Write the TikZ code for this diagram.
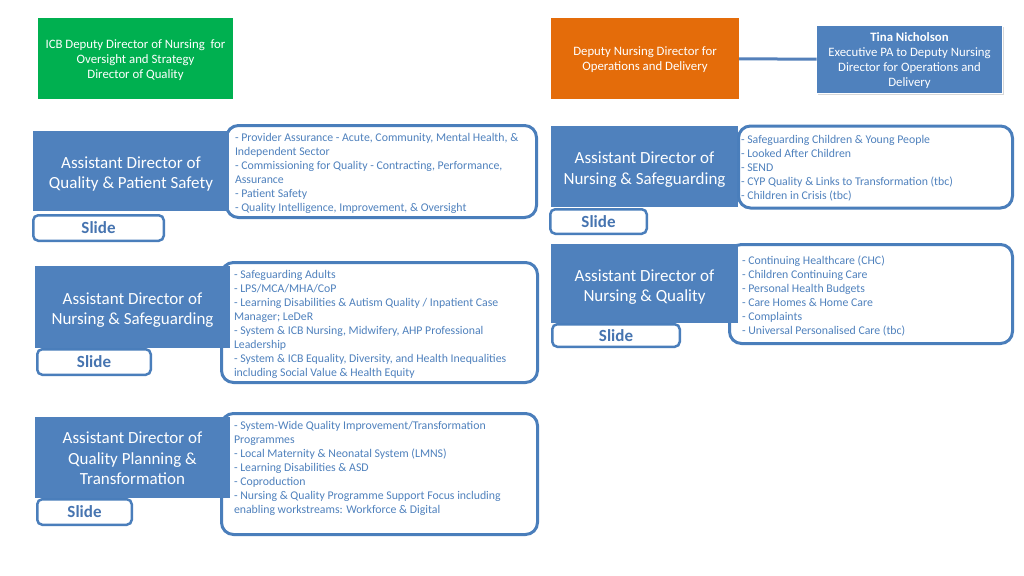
\documentclass[tikz,border=0pt]{standalone}
\usepackage{fontspec}
\setmainfont{Carlito}
\usetikzlibrary{shadows}
\definecolor{bluefill}{RGB}{79,129,189}
\definecolor{blueline}{RGB}{74,126,187}
\definecolor{listtext}{RGB}{79,129,189}
\definecolor{slidetext}{RGB}{70,116,176}
\definecolor{greenfill}{RGB}{0,176,80}
\definecolor{orangefill}{RGB}{228,108,10}
\definecolor{connline}{RGB}{84,128,186}
\newcommand{\mylist}[1]{\begin{minipage}[t]{320pt}\raggedright #1\end{minipage}}
\tikzset{
 topbox/.style={rectangle, inner sep=0pt, outer sep=0pt},
 toptext/.style={inner sep=0pt, text=white, align=center, font=\fontsize{12.8}{15.3}\selectfont, yshift=-1pt},
 adbox/.style={rectangle, fill=bluefill, inner sep=0pt, outer sep=0pt},
 adtext/.style={inner sep=0pt, text=white, align=center, font=\fontsize{17}{20.5}\selectfont},
 listbox/.style={rectangle, rounded corners=12pt, draw=blueline, line width=3pt, fill=white, inner sep=0pt, outer sep=0pt},
 slidebox/.style={rectangle, rounded corners=5pt, draw=blueline, line width=2.5pt, fill=white, inner sep=0pt, outer sep=0pt, text=slidetext, font=\fontsize{17}{20}\selectfont\bfseries},
 listtxt/.style={anchor=base west, inner sep=0pt, outer sep=0pt, text=listtext, font=\fontsize{11.8}{14}\selectfont},
}
\begin{document}
\begin{tikzpicture}[x=1pt,y=-1pt]
\useasboundingbox[fill=white] (0,0) rectangle (1024,575);

% top boxes
\node[topbox, fill=greenfill, minimum width=195pt, minimum height=81pt,
 label={[toptext]center:{ICB Deputy Director of Nursing\ \ for\\Oversight and Strategy\\Director of Quality}}] (icb) at (135.5,59) {};
\node[topbox, fill=orangefill, minimum width=188pt, minimum height=81pt,
 label={[toptext]center:{Deputy Nursing Director for\\Operations and Delivery}}] (dnd) at (645,58.5) {};
\node[topbox, fill=bluefill, draw=white, line width=1.5pt, minimum width=186pt, minimum height=68pt,
 drop shadow={shadow xshift=1.5pt, shadow yshift=-2pt, opacity=0.3},
 label={[toptext]center:{\textbf{Tina Nicholson}\\Executive PA to Deputy Nursing\\Director for Operations and\\Delivery}}] (tina) at (909.5,59.5) {};
\draw[connline, line width=3pt] (dnd) -- (tina);

% left row 1
\node[listbox, minimum width=310pt, minimum height=92pt] (l1list) at (381.5,171.5) {};
\node[adbox, minimum width=196pt, minimum height=80pt,
 label={[adtext, yshift=-3pt]center:{Assistant Director of\\Quality \& Patient Safety}}] (l1ad) at (131,171) {};
\node[slidebox, minimum width=130.5pt, minimum height=25.5pt] (l1slide) at (98.5,228) {Slide};
\node[listtxt] (l1txt) at (235,141) {\mylist{- Provider Assurance - Acute, Community, Mental Health, \&\\Independent Sector\\- Commissioning for Quality - Contracting, Performance,\\Assurance\\- Patient Safety\\- Quality Intelligence, Improvement, \& Oversight}};

% left row 2
\node[listbox, minimum width=316pt, minimum height=120pt] (l2list) at (379.5,322.5) {};
\node[adbox, minimum width=195pt, minimum height=82pt,
 label={[adtext, yshift=-3pt]center:{Assistant Director of\\Nursing \& Safeguarding}}] (l2ad) at (132.5,307) {};
\node[slidebox, minimum width=113.5pt, minimum height=25.5pt] (l2slide) at (94,362) {Slide};
\node[listtxt] (l2txt) at (234,278) {\mylist{- Safeguarding Adults\\- LPS/MCA/MHA/CoP\\- Learning Disabilities \& Autism Quality / Inpatient Case\\Manager; LeDeR\\- System \& ICB Nursing, Midwifery, AHP Professional\\Leadership\\- System \& ICB Equality, Diversity, and Health Inequalities\\including Social Value \& Health Equity}};

% left row 3
\node[listbox, minimum width=316pt, minimum height=121pt] (l3list) at (379.5,474) {};
\node[adbox, minimum width=195pt, minimum height=81pt,
 label={[adtext, yshift=-1pt]center:{Assistant Director of\\Quality Planning \&\\Transformation}}] (l3ad) at (132.5,457.5) {};
\node[slidebox, minimum width=94.5pt, minimum height=25.5pt] (l3slide) at (84.5,512) {Slide};
\node[listtxt] (l3txt) at (234,429.5) {\mylist{- System-Wide Quality Improvement/Transformation\\Programmes\\- Local Maternity \& Neonatal System (LMNS)\\- Learning Disabilities \& ASD\\- Coproduction\\- Nursing \& Quality Programme Support Focus including\\enabling workstreams: Workforce \& Digital}};

% right row 1
\node[adbox, minimum width=187pt, minimum height=81pt,
 label={[adtext, yshift=-3pt]center:{Assistant Director of\\Nursing \& Safeguarding}}] (r1ad) at (644.5,166.5) {};
\node[listbox, fill=none, minimum width=274pt, minimum height=82pt] (r1list) at (875.5,167) {};
\node[slidebox, minimum width=96.5pt, minimum height=24.5pt] (r1slide) at (598.5,221.5) {Slide};
\node[listtxt] (r1txt) at (741,143) {\mylist{- Safeguarding Children \& Young People\\- Looked After Children\\- SEND\\- CYP Quality \& Links to Transformation (tbc)\\- Children in Crisis (tbc)}};

% right row 2
\node[listbox, minimum width=283pt, minimum height=99pt] (r2list) at (871,294) {};
\node[adbox, minimum width=187pt, minimum height=79pt,
 label={[adtext, yshift=-3.5pt]center:{Assistant Director of\\Nursing \& Quality}}] (r2ad) at (644.5,283.5) {};
\node[slidebox, minimum width=127.5pt, minimum height=22.5pt] (r2slide) at (616,335.5) {Slide};
\node[listtxt] (r2txt) at (742,264) {\mylist{- Continuing Healthcare (CHC)\\- Children Continuing Care\\- Personal Health Budgets\\- Care Homes \& Home Care\\- Complaints\\- Universal Personalised Care (tbc)}};
\end{tikzpicture}
\end{document}
